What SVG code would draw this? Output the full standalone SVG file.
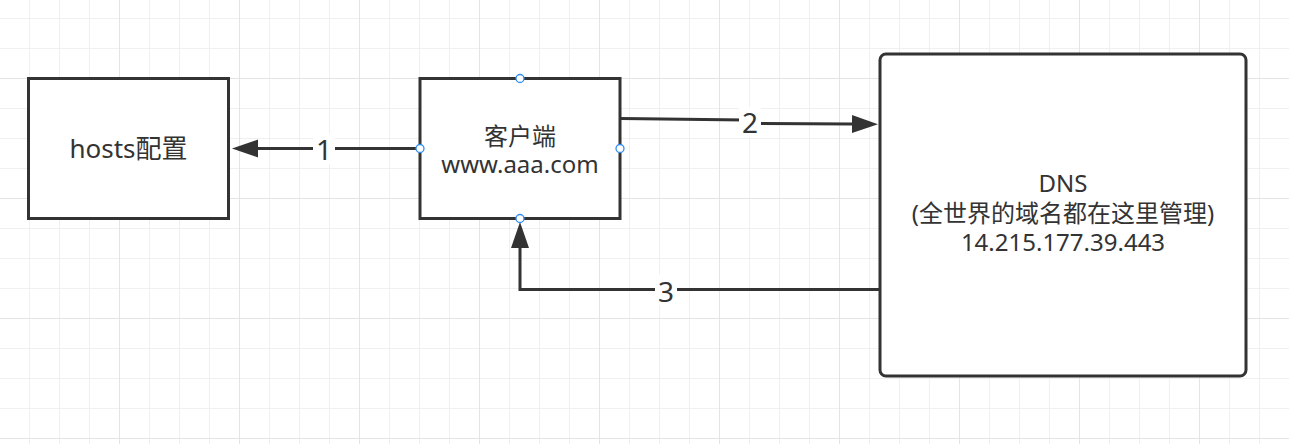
<svg xmlns="http://www.w3.org/2000/svg" width="1289" height="444" viewBox="0 0 1289 444">
  <defs>
    <pattern id="minor" patternUnits="userSpaceOnUse" x="29" y="18" width="30" height="30">
      <path d="M0.5,0 V30 M0,0.5 H30" stroke="#f0f0f0" stroke-width="1" fill="none"/>
    </pattern>
    <pattern id="major" patternUnits="userSpaceOnUse" x="119" y="78" width="120" height="120">
      <path d="M0.5,0 V120 M0,0.5 H120" stroke="#e4e4e4" stroke-width="1" fill="none"/>
    </pattern>
    <marker id="arrow" markerUnits="userSpaceOnUse" markerWidth="28" markerHeight="20" refX="0" refY="10" orient="auto" viewBox="0 0 28 20">
      <path d="M0,1 L26,10 L0,19 Z" fill="#333333"/>
    </marker>
    <style>
      .box { fill: #ffffff; stroke: #333333; stroke-width: 3; }
      .conn { fill: none; stroke: #333333; stroke-width: 3; marker-end: url(#arrow); }
      .t { font-family: "Noto Sans", "Noto Sans CJK SC", sans-serif; font-size: 24px; fill: #333333; text-anchor: middle; }
      .lbl { font-family: "Noto Sans", "Noto Sans CJK SC", sans-serif; font-size: 28px; fill: #333333; text-anchor: middle; dominant-baseline: central; }
      .lblbg { fill: #ffffff; }
      .handle { fill: #ffffff; stroke: #2f8cf0; stroke-width: 1.3; }
    </style>
  </defs>
  <rect width="1289" height="444" fill="#ffffff"/>
  <rect width="1289" height="444" fill="url(#minor)"/>
  <rect width="1289" height="444" fill="url(#major)"/>

  <g id="connectors">
    <path class="conn" d="M419,148.5 L258,148.5"/>
    <path class="conn" d="M621,118.5 L745,120 L760,123.5 L852,124"/>
    <path class="conn" d="M880,289.5 L520,289.5 L520,248"/>
    <rect class="lblbg" x="313" y="134" width="22" height="30"/>
    <text class="lbl" x="324" y="149">1</text>
    <rect class="lblbg" x="739" y="107" width="22" height="30"/>
    <text class="lbl" x="750" y="122">2</text>
    <rect class="lblbg" x="655" y="275" width="22" height="30"/>
    <text class="lbl" x="666" y="291">3</text>
  </g>

  <g id="hosts">
    <rect class="box" x="28.5" y="78.5" width="200" height="140"/>
    <text class="t" x="128.5" y="158" style="font-size:26px">hosts配置</text>
  </g>

  <g id="client">
    <rect class="box" x="420" y="78.5" width="200" height="140"/>
    <text class="t" x="520" y="145">客户端</text>
    <text class="t" x="520" y="173">www.aaa.com</text>
    <circle class="handle" cx="520" cy="78.5" r="4"/>
    <circle class="handle" cx="520" cy="218.5" r="4"/>
    <circle class="handle" cx="420" cy="148.5" r="4"/>
    <circle class="handle" cx="620" cy="148.5" r="4"/>
  </g>

  <g id="dns">
    <rect class="box" x="880" y="54" width="366" height="322" rx="6" ry="6"/>
    <text class="t" x="1063" y="192">DNS</text>
    <text class="t" x="1063" y="222">(全世界的域名都在这里管理)</text>
    <text class="t" x="1063" y="251">14.215.177.39.443</text>
  </g>
</svg>
